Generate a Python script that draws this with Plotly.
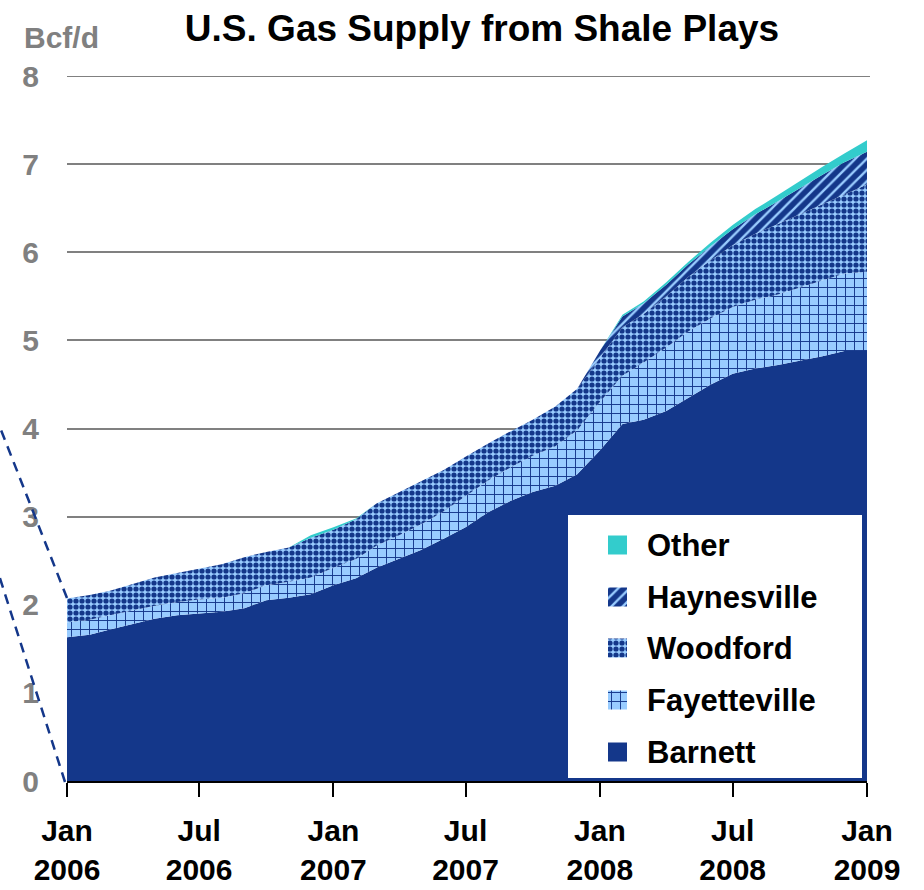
import plotly.graph_objects as go

months = ["2006-01-01","2006-02-01","2006-03-01","2006-04-01","2006-05-01","2006-06-01",
          "2006-07-01","2006-08-01","2006-09-01","2006-10-01","2006-11-01","2006-12-01",
          "2007-01-01","2007-02-01","2007-03-01","2007-04-01","2007-05-01","2007-06-01",
          "2007-07-01","2007-08-01","2007-09-01","2007-10-01","2007-11-01","2007-12-01",
          "2008-01-01","2008-02-01","2008-03-01","2008-04-01","2008-05-01","2008-06-01",
          "2008-07-01","2008-08-01","2008-09-01","2008-10-01","2008-11-01","2008-12-01",
          "2009-01-01"]

barnett = [1.63,1.66,1.72,1.78,1.84,1.88,1.90,1.92,1.96,2.05,2.08,2.12,
           2.22,2.30,2.42,2.52,2.62,2.75,2.88,3.05,3.18,3.28,3.35,3.48,
           3.75,4.05,4.10,4.20,4.35,4.50,4.62,4.68,4.72,4.77,4.82,4.88,4.88]
fayetteville = [0.17,0.17,0.16,0.16,0.15,0.15,0.16,0.16,0.17,0.17,0.18,0.19,
                0.20,0.22,0.25,0.27,0.29,0.31,0.35,0.36,0.38,0.41,0.45,0.50,
                0.55,0.55,0.65,0.72,0.75,0.75,0.76,0.78,0.80,0.83,0.86,0.88,0.90]
woodford = [0.27,0.28,0.28,0.30,0.32,0.33,0.35,0.38,0.41,0.38,0.39,0.45,
            0.43,0.45,0.48,0.49,0.49,0.47,0.45,0.42,0.41,0.41,0.45,0.47,
            0.50,0.55,0.55,0.58,0.62,0.66,0.70,0.75,0.80,0.83,0.87,0.90,0.99]
haynesville = [0,0,0,0,0,0,0,0,0,0,0,0,
               0,0,0,0,0,0,0,0,0,0,0,0,
               0.08,0.12,0.12,0.13,0.14,0.16,0.18,0.22,0.26,0.30,0.33,0.36,0.37]
other = [0,0,0,0,0,0,0,0,0,0,0,0.03,
         0.03,0.01,0,0,0,0,0,0,0,0,0,0,
         0,0.02,0.02,0.03,0.03,0.04,0.05,0.06,0.07,0.08,0.09,0.10,0.13]

tick_vals = ["2006-01-01","2006-07-01","2007-01-01","2007-07-01","2008-01-01","2008-07-01","2009-01-01"]
tick_text = ["Jan<br>2006","Jul<br>2006","Jan<br>2007","Jul<br>2007","Jan<br>2008","Jul<br>2008","Jan<br>2009"]
y_ticks = [0, 1, 2, 3, 4, 5, 6, 7, 8]
series_names = ["Other","Haynesville","Woodford","Fayetteville","Barnett"]

DARK = "#14378a"
LIGHT = "#99ccff"
TEAL = "#33cccc"
FONT = "Arial, Liberation Sans, sans-serif"

styles = {
    "Barnett": dict(fillcolor=DARK),
    "Fayetteville": dict(fillcolor=LIGHT, fillpattern=dict(shape="+", bgcolor=LIGHT, fgcolor=DARK, size=9, solidity=0.2, fillmode="replace")),
    "Woodford": dict(fillcolor=LIGHT, fillpattern=dict(shape=".", bgcolor=LIGHT, fgcolor=DARK, size=6, solidity=0.6, fillmode="replace")),
    "Haynesville": dict(fillcolor=DARK, fillpattern=dict(shape="/", bgcolor=DARK, fgcolor=LIGHT, size=8, solidity=0.3, fillmode="replace")),
    "Other": dict(fillcolor=TEAL),
}

fig = go.Figure()
data = {"Barnett": barnett, "Fayetteville": fayetteville, "Woodford": woodford,
        "Haynesville": haynesville, "Other": other}
for name in ["Barnett","Fayetteville","Woodford","Haynesville","Other"]:
    fig.add_trace(go.Scatter(x=months, y=data[name], name=name, mode="lines",
                             stackgroup="one", line=dict(width=0), hoverinfo="skip",
                             showlegend=False, **styles[name]))

# Custom legend on a pixel-based overlay axis
box = dict(x0=568, x1=862, y0=515, y1=778)
fig.add_trace(go.Scatter(x=[box["x0"], box["x1"], box["x1"], box["x0"], box["x0"]],
                         y=[box["y0"], box["y0"], box["y1"], box["y1"], box["y0"]],
                         xaxis="x2", yaxis="y2", fill="toself", fillcolor="white",
                         mode="lines", line=dict(width=0), hoverinfo="skip", showlegend=False))
centers = [545, 597, 648, 700, 752]
for name, cy in zip(series_names, centers):
    s = styles[name]
    fig.add_trace(go.Scatter(x=[608, 627, 627, 608, 608],
                             y=[cy-9.5, cy-9.5, cy+9.5, cy+9.5, cy-9.5],
                             xaxis="x2", yaxis="y2", fill="toself", mode="lines",
                             line=dict(width=0), hoverinfo="skip", showlegend=False, **s))
    fig.add_annotation(x=645, y=cy, xref="x2", yref="y2", text=f"<b>{name}</b>",
                       showarrow=False, xanchor="left", yanchor="middle",
                       font=dict(family=FONT, size=31, color="black"))

W, H = 924, 890
L, R, T, B = 67, 867, 76, 781
def px(x): return (x - L) / (R - L)
def py(y): return (B - y) / (B - T)

# top gridline at 8
fig.add_shape(type="line", xref="paper", yref="y", x0=0, x1=px(870), y0=8, y1=8,
              line=dict(color="#808080", width=2), layer="below")

# dashed callout lines at left
fig.add_shape(type="line", xref="paper", yref="paper", x0=px(67), y0=py(598), x1=px(-10), y1=py(402),
              line=dict(color=DARK, width=2.5, dash="10px,7px"))
fig.add_shape(type="line", xref="paper", yref="paper", x0=px(65), y0=py(782), x1=px(-10), y1=py(547),
              line=dict(color=DARK, width=2.5, dash="10px,7px"))

fig.add_annotation(xref="paper", yref="paper", x=px(22), y=py(38), text="<b>Bcf/d</b>",
                   showarrow=False, xanchor="left", yanchor="middle",
                   font=dict(family=FONT, size=30, color="#808080"))

fig.update_layout(
    width=W, height=H,
    margin=dict(l=L, r=W - R, t=T, b=H - B, autoexpand=False),
    paper_bgcolor="white", plot_bgcolor="white",
    showlegend=False,
    title=dict(text="<b>U.S. Gas Supply from Shale Plays</b>", x=482 / W, xref="container",
               xanchor="center", y=1 - 28 / H, yref="container", yanchor="middle",
               font=dict(family=FONT, size=37, color="black")),
    xaxis=dict(type="date", range=["2006-01-01", "2009-01-01"], tickmode="array",
               tickvals=tick_vals, ticktext=[f"<b>{t.replace('<br>', '</b><br><b>')}</b>" for t in tick_text],
               showgrid=False, showline=True, linecolor="black", linewidth=2,
               ticks="outside", ticklen=14, tickwidth=2, tickcolor="black",
               ticklabelstandoff=8, automargin=False,
               tickfont=dict(family=FONT, size=30, color="black", weight="bold"), fixedrange=True),
    yaxis=dict(range=[0, 8], tickmode="array", tickvals=y_ticks,
               ticktext=[f"<b>{v}</b>" for v in y_ticks],
               showgrid=True, gridcolor="#808080", gridwidth=2,
               zeroline=False, showline=False, ticks="", ticklabelstandoff=27, automargin=False,
               tickfont=dict(family=FONT, size=30, color="#808080", weight="bold"),
               fixedrange=True),
    xaxis2=dict(overlaying="x", range=[L, R], visible=False, fixedrange=True),
    yaxis2=dict(overlaying="y", range=[B, T], visible=False, fixedrange=True),
)

fig.write_html("out.html")
